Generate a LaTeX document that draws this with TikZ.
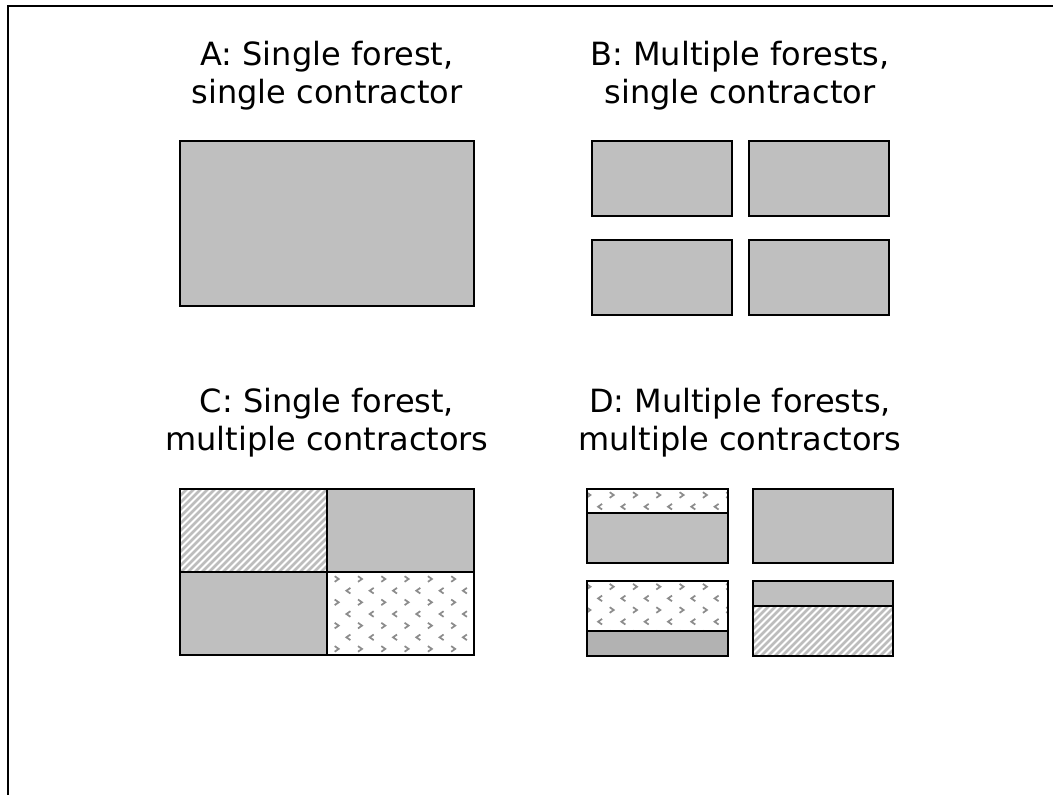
\documentclass[tikz,border=0pt]{standalone}
\usepackage{fontspec}
\setmainfont{DejaVu Sans}
\definecolor{boxgray}{gray}{0.75}
\definecolor{deepgray}{gray}{0.70}
\definecolor{hatchgray}{gray}{0.74}
\definecolor{markgray}{gray}{0.55}
\tikzset{
  box/.style={draw=black, line width=1.9pt},
  title/.style={font=\fontsize{24}{28.5}\selectfont, align=center, inner sep=0pt, anchor=base},
  hatchline/.style={draw=hatchgray, line width=2pt},
  chevron/.style={draw=markgray, line width=1.3pt},
}
% diagonal stripes inside a cell (x1,y1)-(x2,y2)
\newcommand{\hatchcell}[4]{%
  \begin{scope}
    \clip (#1,#2) rectangle (#3,#4);
    \foreach \i in {-200,-193,...,200}
      \draw[hatchline] (#1+\i,#4+5) -- ++(210,-210);
  \end{scope}}
% rows of > and < marks inside a cell; #5,#6 offset of the first mark
\newcommand{\chevroncell}[6]{%
  \begin{scope}
    \clip (#1,#2) rectangle (#3,#4);
    \foreach \r in {0,...,3}
      \foreach \c in {-1,...,7} {
        \draw[chevron, shift={(#1+#5+\c*23.3,#2+#6+\r*23.3)}]
          (-2,-2.8) -- (2,0) -- (-2,2.8);
        \draw[chevron, shift={(#1+#5+\c*23.3+11.7,#2+#6+\r*23.3+11.7)}]
          (2,-2.8) -- (-2,0) -- (2,2.8);
      }
  \end{scope}}
\begin{document}
\begin{tikzpicture}[x=0.75pt, y=-0.75pt]
  \useasboundingbox (0,0) rectangle (1053,794);
  % frame
  \draw[line width=1.9pt] (8,800) -- (8,6) -- (1060,6);

  % titles (anchored at the baseline of the second line)
  \node[title] (tA) at (327,103) {A: Single forest,\\single contractor};
  \node[title] (tB) at (740,103) {B: Multiple forests,\\single contractor};
  \node[title] (tC) at (327,450) {C: Single forest,\\multiple contractors};
  \node[title] (tD) at (740,450) {D: Multiple forests,\\multiple contractors};

  % A
  \draw[box, fill=boxgray] (180,141) rectangle (474,306);

  % B
  \draw[box, fill=boxgray] (592,141) rectangle (732,216);
  \draw[box, fill=boxgray] (749,141) rectangle (889,216);
  \draw[box, fill=boxgray] (592,240) rectangle (732,315);
  \draw[box, fill=boxgray] (749,240) rectangle (889,315);

  % C
  \fill[boxgray] (327,489) rectangle (474,572);
  \fill[boxgray] (180,572) rectangle (327,655);
  \hatchcell{180}{489}{327}{572}
  \chevroncell{327}{572}{474}{655}{9.7}{7}
  \draw[box] (180,489) rectangle (474,655);
  \draw[box] (327,489) -- (327,655);
  \draw[box] (180,572) -- (474,572);

  % D
  \chevroncell{587}{489}{728}{513}{1.4}{6}
  \fill[boxgray] (587,513) rectangle (728,563);
  \draw[box] (587,489) rectangle (728,563);
  \draw[box] (587,513) -- (728,513);

  \draw[box, fill=boxgray] (753,489) rectangle (893,563);

  \chevroncell{587}{581}{728}{631}{1.4}{5.7}
  \fill[deepgray] (587,631) rectangle (728,656);
  \draw[box] (587,581) rectangle (728,656);
  \draw[box] (587,631) -- (728,631);

  \fill[boxgray] (753,581) rectangle (893,606);
  \hatchcell{753}{606}{893}{656}
  \draw[box] (753,581) rectangle (893,656);
  \draw[box] (753,606) -- (893,606);
\end{tikzpicture}
\end{document}
